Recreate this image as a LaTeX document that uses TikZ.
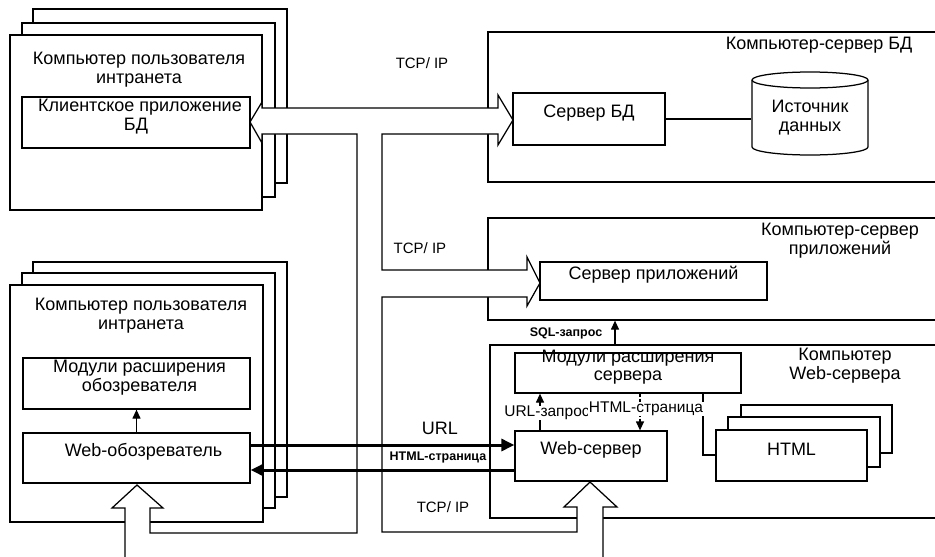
\documentclass[tikz,border=0pt]{standalone}
\usepackage{fontspec}
\setmainfont{Liberation Sans}
\usetikzlibrary{arrows.meta,fit}
\begin{document}
\begin{tikzpicture}[x=1pt,y=-1pt,line width=1.25pt,
  box/.style={draw,fill=white,inner sep=0pt,align=center,font=\fontsize{18}{19}\selectfont},
  lbl/.style={inner sep=0pt,align=center,font=\fontsize{18}{19}\selectfont},
  mid/.style={inner sep=0pt,align=center,font=\fontsize{15.5}{17}\selectfont},
  small/.style={inner sep=0pt,align=center,font=\bfseries\fontsize{12.5}{14}\selectfont},
  tcp/.style={inner sep=0pt,font=\fontsize{15}{17}\selectfont},
  thickarrow/.style={line width=3pt,-{Triangle[length=13pt,width=12pt]}},
  thinarrow/.style={line width=1.25pt,-{Triangle[length=9pt,width=8pt]}}]
\useasboundingbox (0,0) rectangle (935,557);
\clip (0,0) rectangle (935,557);

% top-left stack
\node[box,fit={(33,9)(287,183)}] (u1c) {};
\node[box,fit={(22,23)(275,197)}] (u1b) {};
\node[box,fit={(10,35)(262,210)}] (u1) {};
\node[lbl] (u1t) at (139,70) {Компьютер пользователя\\интранета};
\node[box,fit={(22,97)(250,148)}] (capp) {\hspace*{8pt}Клиентское приложение\\БД};

% bottom-left stack
\node[box,fit={(33,262)(287,497)}] (u2c) {};
\node[box,fit={(22,273)(275,508)}] (u2b) {};
\node[box,fit={(10,285)(263,522)}] (u2) {};
\node[lbl] (u2t) at (141,316) {Компьютер пользователя\\интранета};
\node[box,fit={(23,358)(250,409)}] (mob) {\hspace*{6pt}Модули расширения\\\hspace*{6pt}обозревателя};
\node[box,fit={(23,433)(250,483)}] (wb) {\hspace*{14pt}Web-обозреватель};
\draw[thinarrow] (wb.north) -- (mob.south);

% DB server computer
\node[box,fit={(488,32)(945,182)}] (cdb) {};
\node[lbl,anchor=east] (cdbt) at (913,45) {Компьютер-сервер БД};
\node[box,fit={(513,93)(665,145)}] (sbd) {Сервер БД};
\draw[fill=white] (752,80) -- (752,147) arc[start angle=180,end angle=360,x radius=58pt,y radius=8pt]
  -- (868,80) arc[start angle=0,end angle=180,x radius=58pt,y radius=8pt] -- cycle;
\draw (752,80) arc[start angle=180,end angle=360,x radius=58pt,y radius=8pt];
\node[inner sep=0pt,fit={(752,72)(868,155)}] (ds) {};
\node[lbl] (dst) at (810,118) {Источник\\данных};
\draw (sbd.east) -- (sbd.east -| ds.west);

% application server computer
\node[box,fit={(488,218)(945,320)}] (capp2) {};
\node[lbl] (capt) at (840,241) {Компьютер-сервер\\приложений};
\node[box,fit={(540,262)(767,300)}] (sapp) {Сервер приложений};

% web server computer
\node[box,fit={(490,345)(945,518)}] (cweb) {};
\node[lbl] (cwebt) at (845,366) {Компьютер\\Web-сервера};
\node[box,fit={(515,353)(741,393)},font=\fontsize{18}{18}\selectfont] (msrv) {Модули расширения\\сервера};
\node[box,fit={(515,431)(667,481)}] (ws) {Web-сервер};
\node[box,fit={(741,405)(892,453)}] (h3) {};
\node[box,fit={(728,417)(880,467)}] (h2) {};
\node[box,fit={(716,430)(867,481)}] (h1) {HTML};
\coordinate (mh) at (703,455);
\draw (msrv.south -| mh) -- (mh) -- (mh -| h1.west);

\draw[thinarrow] (cweb.north -| 615,0) -- (capp2.south -| 615,0);
\node[small] (sql) at (566,333) {SQL-запрос};
\draw[thinarrow] (ws.north -| 540,0) -- (msrv.south -| 540,0);
\draw[thinarrow,dashed,dash pattern=on 3pt off 2pt] (msrv.south -| 640,0) -- (ws.north -| 640,0);
\node[mid,fill=white,inner xsep=1pt] (urlq) at (547,413) {URL-запрос};
\node[mid,fill=white,inner xsep=1pt] (htmlq) at (646,409) {HTML-страница};

% hollow bus
\draw[fill=white,line join=miter]
  (250,122) -- (262,102) -- (262,108) -- (498,108) -- (498,95) -- (513,120)
  -- (498,145) -- (498,134) -- (382,134) -- (382,270) -- (527,270) -- (527,257)
  -- (540,283) -- (527,306) -- (527,297) -- (382,297) -- (382,532) -- (577,532)
  -- (577,507) -- (564,507) -- (590,482) -- (617,507) -- (603,507) -- (603,570)
  -- (125,570) -- (125,508) -- (112,508) -- (137,485) -- (163,508) -- (150,508)
  -- (150,533) -- (357,533) -- (357,134) -- (262,134) -- (262,143) -- cycle;

\node[tcp] (tcp1) at (422,63) {TCP/ IP};
\node[tcp] (tcp2) at (420,248) {TCP/ IP};
\node[tcp] (tcp3) at (443,507) {TCP/ IP};

% URL / HTML thick arrows
\draw[thickarrow] ([yshift=13pt]wb.east) -- ([yshift=13pt]wb.east -| ws.west);
\draw[thickarrow] ([yshift=-12pt]wb.east -| ws.west) -- ([yshift=-12pt]wb.east);
\node[lbl] (url) at (440,428) {URL};
\node[small] (htmlp) at (438,457) {HTML-страница};
\end{tikzpicture}
\end{document}
